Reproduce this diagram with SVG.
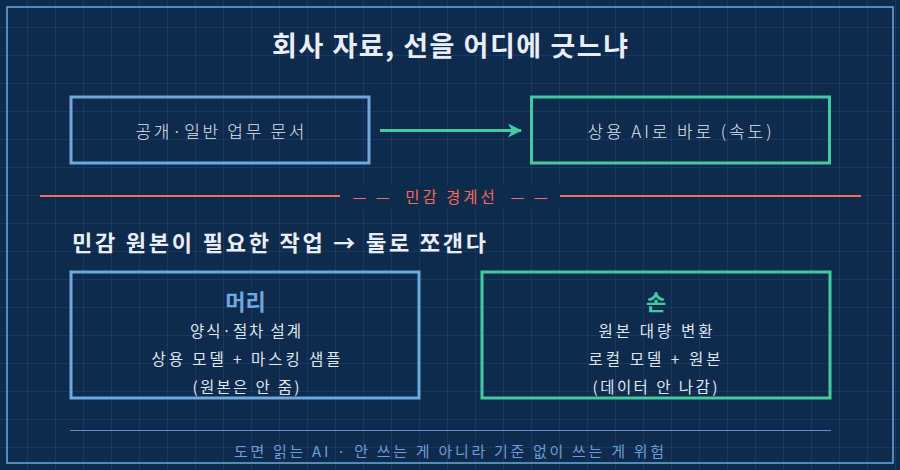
<svg xmlns="http://www.w3.org/2000/svg" width="900" height="470" viewBox="0 0 900 470">
<defs>
<pattern id="grid" width="28" height="28" patternUnits="userSpaceOnUse">
<path d="M28 0 V28 M0 28 H28" fill="none" stroke="#214574" stroke-width="1"/>
</pattern>
<marker id="ah" viewBox="0 0 14 14" refX="13" refY="7" markerWidth="14" markerHeight="14" markerUnits="userSpaceOnUse" orient="auto">
<path d="M0,0 L14,7 L0,14 L4,7 Z" fill="#45c9a0"/>
</marker>
</defs>
<style>
.kr{font-family:"Noto Sans CJK KR","Noto Sans",sans-serif;}
.title{font-size:27px;font-weight:700;fill:#e8eef8;}
.head{font-size:22px;font-weight:700;fill:#e8eef8;}
.lbl{font-size:17px;font-weight:300;fill:#dfe7f3;}
.sub{font-size:15.5px;font-weight:400;fill:#dfe7f3;}
.blue{fill:none;stroke:#6fa8dc;stroke-width:3;}
.green{fill:none;stroke:#45c9a0;stroke-width:3;}
</style>
<rect width="900" height="470" fill="#0e2a4c"/>
<rect width="900" height="470" fill="url(#grid)"/>
<rect x="7" y="7" width="886" height="456" fill="none" stroke="#6fa8dc" stroke-width="1.5"/>
<text class="kr title" x="450" y="56" text-anchor="middle" textLength="356" lengthAdjust="spacing">회사 자료, 선을 어디에 긋느냐</text>
<g id="public">
<rect class="blue" x="71" y="97" width="298" height="66"/>
<text class="kr lbl" x="220" y="138" text-anchor="middle" textLength="169" lengthAdjust="spacing">공개·일반 업무 문서</text>
</g>
<g id="commercial">
<rect class="green" x="531.5" y="97" width="298" height="66"/>
<text class="kr lbl" x="679.5" y="138" text-anchor="middle" textLength="184" lengthAdjust="spacing">상용 AI로 바로 (속도)</text>
</g>
<g id="connectors">
<line x1="380" y1="130.5" x2="521" y2="130.5" stroke="#45c9a0" stroke-width="3" marker-end="url(#ah)"/>
</g>
<g id="boundary">
<line x1="40" y1="196" x2="340" y2="196" stroke="#f26b5b" stroke-width="2"/>
<line x1="560" y1="196" x2="861" y2="196" stroke="#f26b5b" stroke-width="2"/>
<rect x="340" y="185" width="220" height="24" fill="#0e2a4c"/>
<text class="kr" x="450" y="203" text-anchor="middle" font-size="15.5" fill="#f26b5b" textLength="195" lengthAdjust="spacing" xml:space="preserve">— —  민감 경계선  — —</text>
</g>
<text class="kr head" x="72" y="251" textLength="414" lengthAdjust="spacing">민감 원본이 필요한 작업 → 둘로 쪼갠다</text>
<g id="head-node">
<rect class="blue" x="71" y="272" width="348" height="126"/>
<text class="kr" x="245.5" y="310" text-anchor="middle" font-size="22" font-weight="700" fill="#6fa8dc">머리</text>
<text class="kr sub" x="245.5" y="337" text-anchor="middle" textLength="111" lengthAdjust="spacing">양식·절차 설계</text>
<text class="kr sub" x="246" y="365" text-anchor="middle" textLength="189" lengthAdjust="spacing">상용 모델 + 마스킹 샘플</text>
<text class="kr sub" x="246" y="393" text-anchor="middle" textLength="107" lengthAdjust="spacing">(원본은 안 줌)</text>
</g>
<g id="hand-node">
<rect class="green" x="482" y="272" width="348" height="126"/>
<text class="kr" x="656" y="310" text-anchor="middle" font-size="22" font-weight="700" fill="#45c9a0">손</text>
<text class="kr sub" x="655.5" y="337" text-anchor="middle" textLength="114" lengthAdjust="spacing">원본 대량 변환</text>
<text class="kr sub" x="654.5" y="365" text-anchor="middle" textLength="132" lengthAdjust="spacing">로컬 모델 + 원본</text>
<text class="kr sub" x="655" y="393" text-anchor="middle" textLength="125" lengthAdjust="spacing">(데이터 안 나감)</text>
</g>
<line x1="70" y1="430.5" x2="831" y2="430.5" stroke="#5b8fc9" stroke-width="1"/>
<text class="kr" x="449" y="457" text-anchor="middle" font-size="15" fill="#6a9fd8" textLength="430" lengthAdjust="spacing">도면 읽는 AI · 안 쓰는 게 아니라 기준 없이 쓰는 게 위험</text>
</svg>
